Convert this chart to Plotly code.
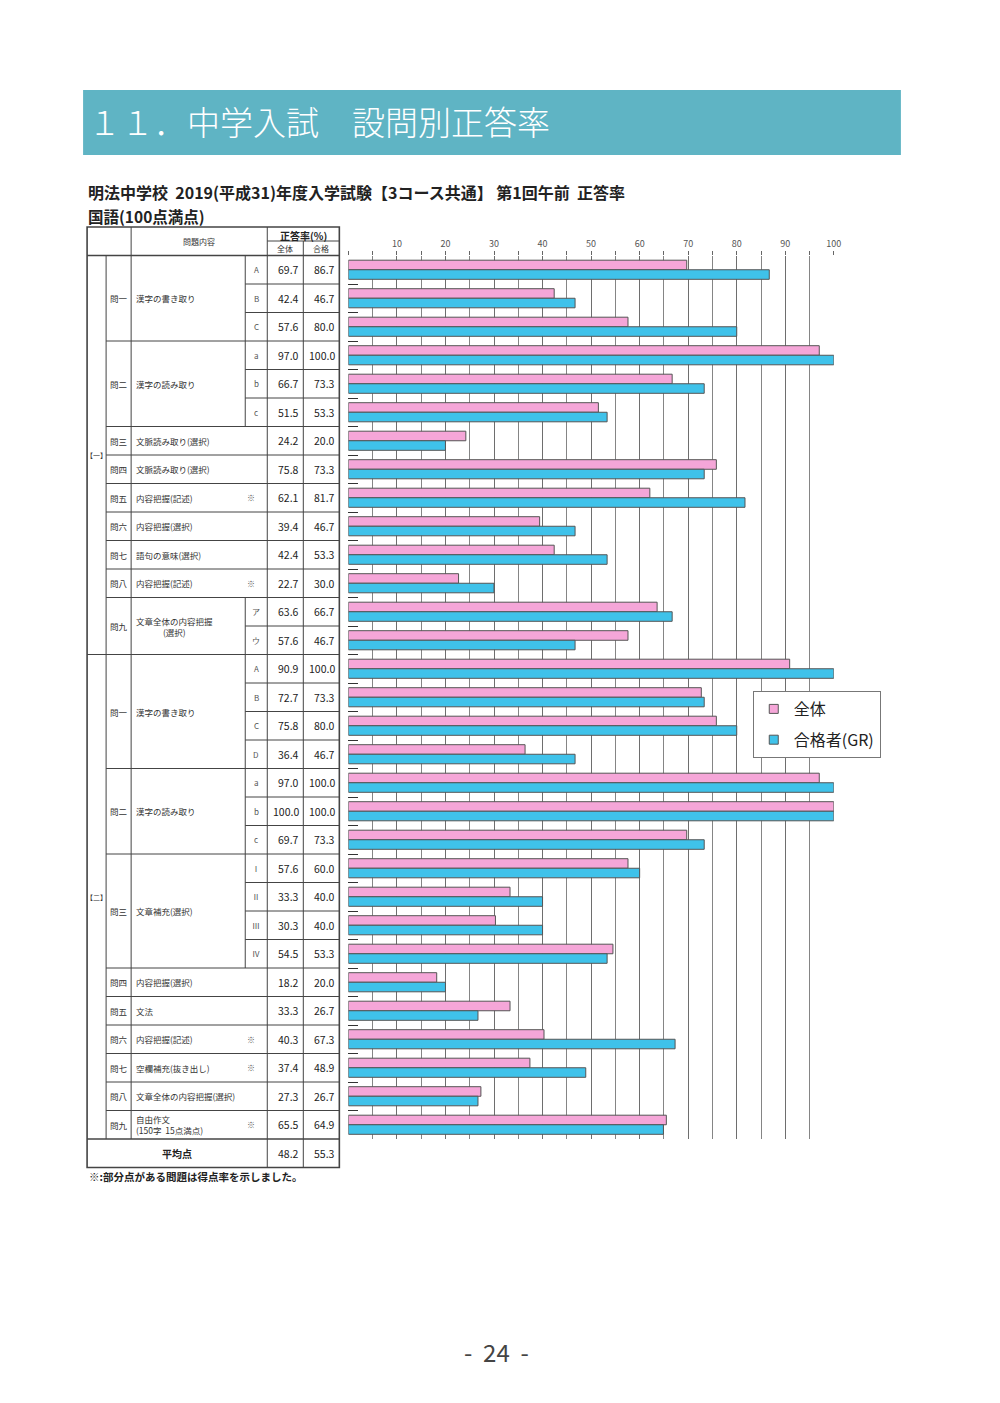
import plotly.graph_objects as go

W, H = 1000, 1403
FONT = "Noto Sans CJK JP"

# ---------------- data ----------------
sections = ["【一】", "【二】"]
row_section = [0] * 14 + [1] * 17
row_q = ["問一", "問一", "問一", "問二", "問二", "問二", "問三", "問四", "問五", "問六", "問七", "問八", "問九", "問九",
         "問一", "問一", "問一", "問一", "問二", "問二", "問二", "問三", "問三", "問三", "問三",
         "問四", "問五", "問六", "問七", "問八", "問九"]
row_text = (["漢字の書き取り"] * 3 + ["漢字の読み取り"] * 3 +
            ["文脈読み取り(選択)", "文脈読み取り(選択)", "内容把握(記述)", "内容把握(選択)",
             "語句の意味(選択)", "内容把握(記述)"] +
            ["文章全体の内容把握<br>(選択)"] * 2 +
            ["漢字の書き取り"] * 4 + ["漢字の読み取り"] * 3 + ["文章補充(選択)"] * 4 +
            ["内容把握(選択)", "文法", "内容把握(記述)", "空欄補充(抜き出し)",
             "文章全体の内容把握(選択)", "自由作文<br>(150字  15点満点)"])
row_sub = ["A", "B", "C", "a", "b", "c", "", "", "", "", "", "", "ア", "ウ",
           "A", "B", "C", "D", "a", "b", "c", "Ⅰ", "Ⅱ", "Ⅲ", "Ⅳ", "", "", "", "", "", ""]
row_mark = ["", "", "", "", "", "", "", "", "※", "", "", "※", "", "",
            "", "", "", "", "", "", "", "", "", "", "", "", "", "※", "※", "", "※"]
overall = [69.7, 42.4, 57.6, 97.0, 66.7, 51.5, 24.2, 75.8, 62.1, 39.4, 42.4, 22.7, 63.6, 57.6,
           90.9, 72.7, 75.8, 36.4, 97.0, 100.0, 69.7, 57.6, 33.3, 30.3, 54.5,
           18.2, 33.3, 40.3, 37.4, 27.3, 65.5]
passers = [86.7, 46.7, 80.0, 100.0, 73.3, 53.3, 20.0, 73.3, 81.7, 46.7, 53.3, 30.0, 66.7, 46.7,
           100.0, 73.3, 80.0, 46.7, 100.0, 100.0, 73.3, 60.0, 40.0, 40.0, 53.3,
           20.0, 26.7, 67.3, 48.9, 26.7, 64.9]
avg_overall, avg_pass = 48.2, 55.3
x_ticks = [10, 20, 30, 40, 50, 60, 70, 80, 90, 100]
series_names = ["全体", "合格者(GR)"]

# ---------------- styles / layout constants ----------------
PINK = "#f5a6d8"
BLUE = "#3fc2ea"
LINE = "#444444"
N = len(overall)
C0, C1, C2, C3, C4, C5, C6 = 87, 106, 131, 245, 267, 303, 339
TOP, HMID, ROW0, PITCH = 227, 241, 255.5, 28.5
AVG_TOP = ROW0 + N * PITCH
BOTTOM = AVG_TOP + PITCH
XS = 0.992  # horizontal compensation for the rendered page


def px(x):
    return x / (W * XS)


def py(y):
    return 1 - y / H


shapes = []
annots = []


def hline(y, x0, x1, w=1):
    shapes.append(dict(type="line", xref="paper", yref="paper", x0=px(x0), x1=px(x1),
                       y0=py(y), y1=py(y), line=dict(color=LINE, width=w)))


def vline(x, y0, y1, w=1):
    shapes.append(dict(type="line", xref="paper", yref="paper", x0=px(x), x1=px(x),
                       y0=py(y0), y1=py(y1), line=dict(color=LINE, width=w)))


def text(x, y, s, size=8, xanchor="center", bold=False, color="#333", align="left", weight=None):
    if bold:
        s = "<b>" + s + "</b>"
    f = dict(family=FONT, size=size, color=color)
    if weight:
        f["weight"] = weight
    annots.append(dict(xref="paper", yref="paper", x=px(x), y=py(y), text=s, showarrow=False,
                       xanchor=xanchor, yanchor="middle", align=align, font=f))


def rowy(i):
    return ROW0 + i * PITCH


# banner
shapes.append(dict(type="rect", xref="paper", yref="paper", x0=px(83), x1=px(900), y0=py(90), y1=py(155),
                   fillcolor="#5fb4c4", line=dict(width=0), layer="below"))
text(86, 121, "１１．中学入試　設問別正答率", size=33, xanchor="left", color="white", weight=300)
text(86, 192, "明法中学校  2019(平成31)年度入学試験【3コース共通】 第1回午前  正答率", size=16,
     xanchor="left", bold=True, color="#222")
text(86, 216, "国語(100点満点)", size=15.5, xanchor="left", bold=True, color="#222")
text(87, 1176, "※:部分点がある問題は得点率を示しました。", size=10.5, xanchor="left", bold=True, color="#222")
text(496, 1351, "-  24  -", size=24, color="#444")

# table frame
shapes.append(dict(type="rect", xref="paper", yref="paper", x0=px(C0), x1=px(C6), y0=py(TOP), y1=py(BOTTOM),
                   line=dict(color=LINE, width=1.6)))
vline(C2, TOP, ROW0)
vline(C4, TOP, BOTTOM)
vline(C5, HMID, BOTTOM)
hline(HMID, C4, C6)
hline(ROW0, C0, C6, 1.5)
vline(C1, ROW0, AVG_TOP)
vline(C2, ROW0, AVG_TOP)
hline(AVG_TOP, C0, C6, 1.5)

text((C2 + C4) / 2, (TOP + ROW0) / 2, "問題内容", size=8)
text((C4 + C6) / 2, (TOP + HMID) / 2 + 1, "正答率(%)", size=10, bold=True, color="#222")
text((C4 + C5) / 2, (HMID + ROW0) / 2, "全体", size=8)
text((C5 + C6) / 2, (HMID + ROW0) / 2, "合格", size=8)

# section labels / boundaries
for s_idx, s_name in enumerate(sections):
    rows = [i for i in range(N) if row_section[i] == s_idx]
    a, b = rows[0], rows[-1] + 1
    text((C0 + C1) / 2, (rowy(a) + rowy(b)) / 2, s_name, size=7)
    if a > 0:
        hline(rowy(a), C0, C6)

# question groups
groups = []
for i in range(N):
    if i > 0 and row_q[i] == row_q[i - 1] and row_section[i] == row_section[i - 1]:
        groups[-1][1] = i + 1
    else:
        groups.append([i, i + 1])

for a, b in groups:
    yc = (rowy(a) + rowy(b)) / 2
    text((C1 + C2) / 2, yc, row_q[a], size=8.5)
    if "<br>" in row_text[a] and row_sub[a]:
        text(C2 + 3, yc, row_text[a], size=8.5, xanchor="left", align="center")
    else:
        text(C2 + 3, yc, row_text[a], size=8.5, xanchor="left")
    if a > 0 and row_section[a] == row_section[a - 1]:
        hline(rowy(a), C1, C6)
    if row_sub[a]:
        vline(C3, rowy(a), rowy(b))
        for k in range(a + 1, b):
            hline(rowy(k), C3, C6)

for i in range(N):
    yc = rowy(i) + PITCH / 2
    if row_sub[i]:
        text((C3 + C4) / 2, yc, row_sub[i], size=8, color="#555")
    if row_mark[i]:
        text(C3 + 6, yc, row_mark[i], size=8, color="#555")
    text(C5 - 2, yc, f"{overall[i]:.1f}", size=10.5, xanchor="right", color="#222")
    text(C6 - 2, yc, f"{passers[i]:.1f}", size=10.5, xanchor="right", color="#222")

yc = (AVG_TOP + BOTTOM) / 2
text((C0 + C4) / 2, yc, "平均点", size=10, bold=True, color="#222")
text(C5 - 2, yc, f"{avg_overall:.1f}", size=10.5, xanchor="right", color="#222")
text(C6 - 2, yc, f"{avg_pass:.1f}", size=10.5, xanchor="right", color="#222")

# ---------------- bars ----------------
yidx = list(range(N))
fig = go.Figure()
fig.add_trace(go.Bar(orientation="h", x=overall, y=yidx, name=series_names[0], showlegend=False,
                     marker=dict(color=PINK, line=dict(color="#555", width=1))))
fig.add_trace(go.Bar(orientation="h", x=passers, y=yidx, name=series_names[1], showlegend=False,
                     marker=dict(color=BLUE, line=dict(color="#555", width=1))))
# legend entries (small square swatches like the original)
for nm, col, grp in [(series_names[0], PINK, "a"), (series_names[1], BLUE, "b")]:
    fig.add_trace(go.Scatter(x=[None], y=[None], mode="markers", name=nm, legendgroup=grp,
                             marker=dict(symbol="square", size=9, color=col, line=dict(color="#555", width=1))))

fig.update_layout(
    width=W, height=H, margin=dict(l=0, r=0, t=0, b=0),
    paper_bgcolor="white", plot_bgcolor="white",
    barmode="group", bargap=0.33, bargroupgap=0,
    font=dict(family=FONT),
    shapes=shapes, annotations=annots,
    xaxis=dict(domain=[px(348), px(833)], range=[0, 100], side="top", tickvals=x_ticks,
               showgrid=True, gridcolor="#6e6e6e", gridwidth=1, zeroline=False, showline=False,
               ticks="outside", ticklen=4, tickcolor="#666",
               tickfont=dict(size=9, color="#555", family=FONT),
               minor=dict(dtick=5, showgrid=True, gridcolor="#858585", ticks="outside", ticklen=4,
                          tickcolor="#666")),
    yaxis=dict(domain=[py(AVG_TOP), py(ROW0)], range=[N - 0.5, -0.5],
               tickvals=[i - 0.5 for i in range(N + 1)], ticks="inside", ticklen=10, tickcolor="#333",
               tickwidth=1.2, showticklabels=False, showgrid=False, zeroline=False, showline=False),
    legend=dict(x=px(752), y=py(691), xanchor="left", yanchor="top", bgcolor="white",
                bordercolor="#777", borderwidth=1,
                font=dict(size=16, family=FONT, color="#222"),
                tracegroupgap=7, traceorder="grouped", itemwidth=30),
    showlegend=True,
)

fig.write_html("out.html", config={"displayModeBar": False},
               post_script="document.body.style.margin='0';document.body.style.overflow='hidden';")
